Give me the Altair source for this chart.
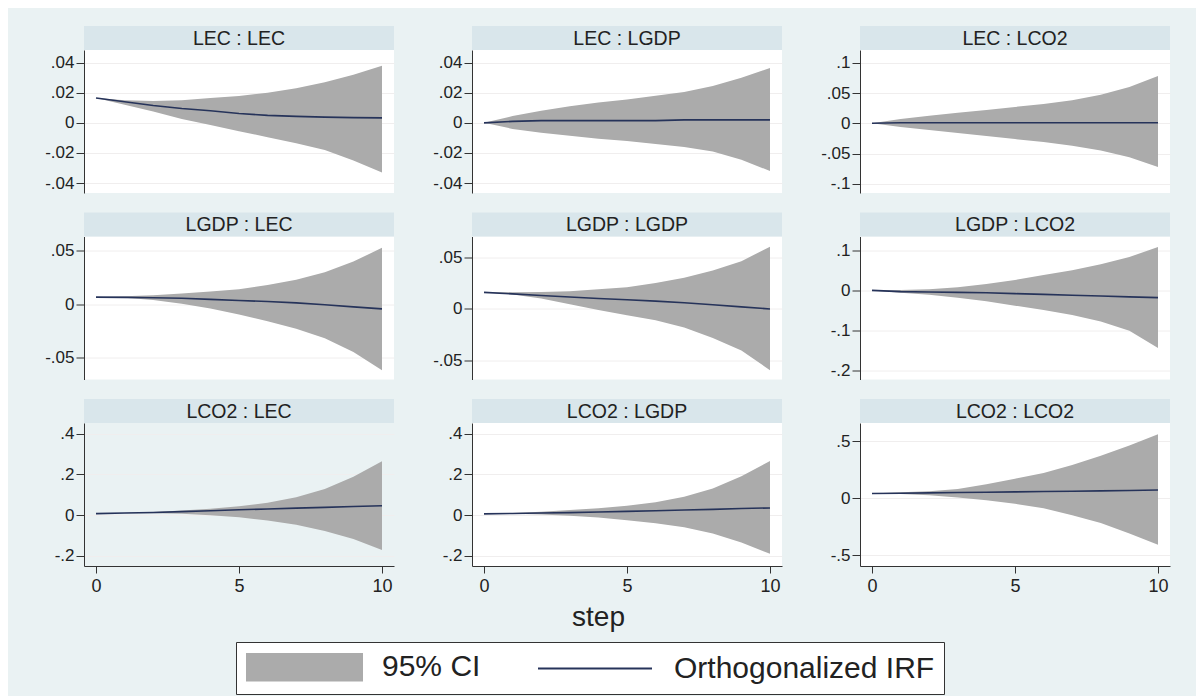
import altair as alt
import pandas as pd

# ---------------- data ----------------
STEPS = list(range(11))
SERIES = ["95% CI", "Orthogonalized IRF"]
IMPULSES = ["LEC", "LGDP", "LCO2"]
RESPONSES = ["LEC", "LGDP", "LCO2"]
X_TICKS = [0, 5, 10]

LEC_LEC_IRF = [.0165, .014, .0115, .0095, .008, .0062, .005, .0043, .0038, .0035, .0033]
LEC_LEC_LO = [.0165, .012, .0075, .0025, -.0015, -.0055, -.0095, -.0135, -.018, -.025, -.033]
LEC_LEC_HI = [.0165, .015, .0145, .015, .0165, .0178, .020, .023, .027, .032, .038]

LEC_LGDP_IRF = [0, .001, .0015, .0015, .0015, .0015, .0015, .002, .002, .002, .002]
LEC_LGDP_LO = [0, -.004, -.0065, -.0085, -.0105, -.012, -.014, -.016, -.019, -.0245, -.032]
LEC_LGDP_HI = [0, .0045, .008, .011, .0135, .0155, .018, .0205, .0245, .030, .0365]

LEC_LCO2_IRF = [0, .001, .001, .001, .001, .001, .001, .001, .001, .001, .001]
LEC_LCO2_LO = [0, -.006, -.011, -.016, -.021, -.026, -.031, -.037, -.045, -.056, -.072]
LEC_LCO2_HI = [0, .007, .0125, .0175, .022, .027, .032, .038, .047, .060, .078]

LGDP_LEC_IRF = [.0066, .0064, .006, .0055, .0045, .0035, .0025, .0012, -.0005, -.0025, -.0044]
LGDP_LEC_LO = [.0066, .006, .004, .0005, -.004, -.0098, -.016, -.023, -.032, -.045, -.062]
LGDP_LEC_HI = [.0066, .0075, .0085, .010, .012, .014, .018, .023, .030, .040, .053]

LGDP_LGDP_IRF = [.016, .0145, .013, .0115, .010, .0088, .0075, .006, .004, .002, 0]
LGDP_LGDP_LO = [.016, .014, .010, .0045, -.001, -.006, -.011, -.018, -.028, -.040, -.059]
LGDP_LGDP_HI = [.016, .016, .0163, .017, .019, .021, .025, .030, .037, .046, .060]

LGDP_LCO2_IRF = [0, -.003, -.004, -.005, -.006, -.008, -.010, -.012, -.014, -.016, -.018]
LGDP_LCO2_LO = [0, -.006, -.011, -.018, -.027, -.038, -.049, -.061, -.077, -.100, -.143]
LGDP_LCO2_HI = [0, .001, .003, .008, .016, .026, .038, .050, .065, .083, .108]

LCO2_LEC_IRF = [.007, .010, .013, .017, .021, .026, .030, .034, .038, .042, .046]
LCO2_LEC_LO = [.007, .009, .009, .006, -.001, -.011, -.027, -.048, -.078, -.118, -.172]
LCO2_LEC_HI = [.007, .010, .015, .022, .031, .043, .061, .088, .128, .188, .264]

LCO2_LGDP_IRF = [.006, .008, .010, .012, .015, .018, .021, .025, .028, .032, .035]
LCO2_LGDP_LO = [.006, .006, .003, -.003, -.012, -.025, -.040, -.060, -.090, -.135, -.190]
LCO2_LGDP_HI = [.006, .010, .016, .025, .034, .046, .063, .090, .130, .190, .266]

LCO2_LCO2_IRF = [.04, .042, .045, .048, .051, .054, .057, .06, .063, .066, .07]
LCO2_LCO2_LO = [.04, .035, .025, .005, -.02, -.05, -.09, -.15, -.22, -.31, -.41]
LCO2_LCO2_HI = [.04, .05, .06, .08, .12, .17, .22, .29, .37, .46, .56]

PANEL_DATA = {
    ("LEC", "LEC"): (LEC_LEC_IRF, LEC_LEC_LO, LEC_LEC_HI),
    ("LEC", "LGDP"): (LEC_LGDP_IRF, LEC_LGDP_LO, LEC_LGDP_HI),
    ("LEC", "LCO2"): (LEC_LCO2_IRF, LEC_LCO2_LO, LEC_LCO2_HI),
    ("LGDP", "LEC"): (LGDP_LEC_IRF, LGDP_LEC_LO, LGDP_LEC_HI),
    ("LGDP", "LGDP"): (LGDP_LGDP_IRF, LGDP_LGDP_LO, LGDP_LGDP_HI),
    ("LGDP", "LCO2"): (LGDP_LCO2_IRF, LGDP_LCO2_LO, LGDP_LCO2_HI),
    ("LCO2", "LEC"): (LCO2_LEC_IRF, LCO2_LEC_LO, LCO2_LEC_HI),
    ("LCO2", "LGDP"): (LCO2_LGDP_IRF, LCO2_LGDP_LO, LCO2_LGDP_HI),
    ("LCO2", "LCO2"): (LCO2_LCO2_IRF, LCO2_LCO2_LO, LCO2_LCO2_HI),
}

Y_TICKS = {
    ("LEC", "LEC"): [-.04, -.02, 0, .02, .04],
    ("LEC", "LGDP"): [-.04, -.02, 0, .02, .04],
    ("LEC", "LCO2"): [-.1, -.05, 0, .05, .1],
    ("LGDP", "LEC"): [-.05, 0, .05],
    ("LGDP", "LGDP"): [-.05, 0, .05],
    ("LGDP", "LCO2"): [-.2, -.1, 0, .1],
    ("LCO2", "LEC"): [-.2, 0, .2, .4],
    ("LCO2", "LGDP"): [-.2, 0, .2, .4],
    ("LCO2", "LCO2"): [-.5, 0, .5],
}

Y_DOMAINS = {
    ("LEC", "LEC"): [-0.0466, 0.0484],
    ("LEC", "LGDP"): [-0.0466, 0.0484],
    ("LEC", "LCO2"): [-0.115, 0.121],
    ("LGDP", "LEC"): [-0.0708, 0.0636],
    ("LGDP", "LGDP"): [-0.068, 0.0698],
    ("LGDP", "LCO2"): [-0.2215, 0.134],
    ("LCO2", "LEC"): [-0.25, 0.452],
    ("LCO2", "LGDP"): [-0.25, 0.452],
    ("LCO2", "LCO2"): [-0.596, 0.658],
}

# ---------------- styling ----------------
FONT = "Liberation Sans, Arial, Helvetica, sans-serif"
BG = "#EAF2F3"
STRIP = "#D9E6EB"
BAND = "#ABABAB"
LINE = "#26335A"
TEXT = "#222222"
AXIS = "#333333"
W, H = 310, 143
STRIP_H = 24

LABEL_EXPR = ("datum.value == 0 ? '0' : (datum.value < 0 ? '-' : '') + "
              "slice(format(abs(datum.value), '.2~f'), 1)")

# legend symbols drawn from the left edge of a 30px nominal symbol box:
# a densely hatched rectangle (reads as a solid swatch) and a line.
SYM_PX = 30.0
_u = SYM_PX / 2.0
_hatch_w = 117 / _u
_hatch = "".join("M-1,%.3fH%.3f" % (-0.9 + 0.066 * i, -1 + _hatch_w) for i in range(28))
SYMBOL_PATHS = [_hatch, "M-1,0H%.3f" % (-1 + 114 / _u)]


def make_panel(imp, resp, row, col):
    irf, lo, hi = PANEL_DATA[(imp, resp)]
    band_df = pd.DataFrame({"step": STEPS, "lo": lo, "hi": hi})
    line_df = pd.DataFrame({"step": STEPS, "irf": irf})
    title_df = pd.DataFrame({"title": [imp + " : " + resp]})

    xscale = alt.Scale(domain=[-0.42, 10.42], nice=False, zero=False)
    yscale = alt.Scale(domain=Y_DOMAINS[(imp, resp)], nice=False, zero=False)

    if row == 2:
        xaxis = alt.Axis(
            values=X_TICKS, grid=False, tickSize=7, labelPadding=4,
            labelFontSize=18, labelFlush=False,
            title="step" if col == 1 else None,
            titleFontSize=28, titleFontWeight="normal", titleX=126,
            titlePadding=8,
        )
    else:
        xaxis = None

    yaxis = alt.Axis(
        values=Y_TICKS[(imp, resp)], labelExpr=LABEL_EXPR, title=None,
        grid=True, gridColor="#F0EEEE", tickSize=8, labelPadding=2,
        labelFontSize=17,
    )

    strip = alt.Chart(title_df).mark_rect(color=STRIP).encode(
        x=alt.value(0), x2=alt.value(W), y=alt.value(-STRIP_H), y2=alt.value(0)
    )
    strip_text = alt.Chart(title_df).mark_text(
        fontSize=19.5, font=FONT, color=TEXT, baseline="middle", align="center"
    ).encode(x=alt.value(W / 2), y=alt.value(-STRIP_H / 2 + 0.5), text="title:N")

    band = alt.Chart(band_df).mark_area(opacity=1, color=BAND).encode(
        x=alt.X("step:Q", scale=xscale, axis=xaxis),
        y=alt.Y("lo:Q", scale=yscale, axis=yaxis),
        y2="hi:Q",
    )
    line = alt.Chart(line_df).mark_line(strokeWidth=1.6, color=LINE).encode(
        x=alt.X("step:Q", scale=xscale, axis=xaxis),
        y=alt.Y("irf:Q", scale=yscale, axis=yaxis),
    )
    layers = [strip, strip_text, band, line]

    if row == 2 and col == 0:
        legend = alt.Legend(
            orient="none", legendX=152, legendY=592, direction="horizontal",
            title=None, fillColor="white", strokeColor=AXIS, padding=9,
            labelFontSize=30, labelFont=FONT, labelColor=TEXT,
            labelOffset=117 - SYM_PX + 18, labelLimit=0,
            columnPadding=53, symbolSize=SYM_PX * SYM_PX, symbolStrokeWidth=2,
            symbolOpacity=1, symbolFillColor="transparent",
        )
        key_df = pd.DataFrame({"series": SERIES})
        key = (
            alt.Chart(key_df)
            .transform_filter("false")
            .mark_point(filled=False, opacity=1, strokeWidth=2)
            .encode(
                color=alt.Color("series:N", scale=alt.Scale(domain=SERIES, range=[BAND, LINE]),
                                legend=legend),
                shape=alt.Shape("series:N", scale=alt.Scale(domain=SERIES, range=SYMBOL_PATHS),
                                legend=legend),
            )
        )
        layers.append(key)

    return alt.layer(*layers).properties(width=W, height=H)


panels = [
    make_panel(imp, resp, r, c)
    for r, imp in enumerate(IMPULSES)
    for c, resp in enumerate(RESPONSES)
]

chart = (
    alt.concat(*panels, columns=3, spacing={"row": 43.5, "column": 78}, bounds="flush")
    .resolve_scale(x="independent", y="independent")
    .properties(background=BG, padding={"left": 36, "top": 18, "right": 26, "bottom": 1})
    .configure_view(stroke=None, fill="white")
    .configure_axis(
        labelFont=FONT, titleFont=FONT, labelColor=TEXT, titleColor=TEXT,
        domainColor=AXIS, tickColor=AXIS, domainWidth=1, tickWidth=1,
    )
)

chart.save("out.html", embed_options={"renderer": "svg", "actions": False})
